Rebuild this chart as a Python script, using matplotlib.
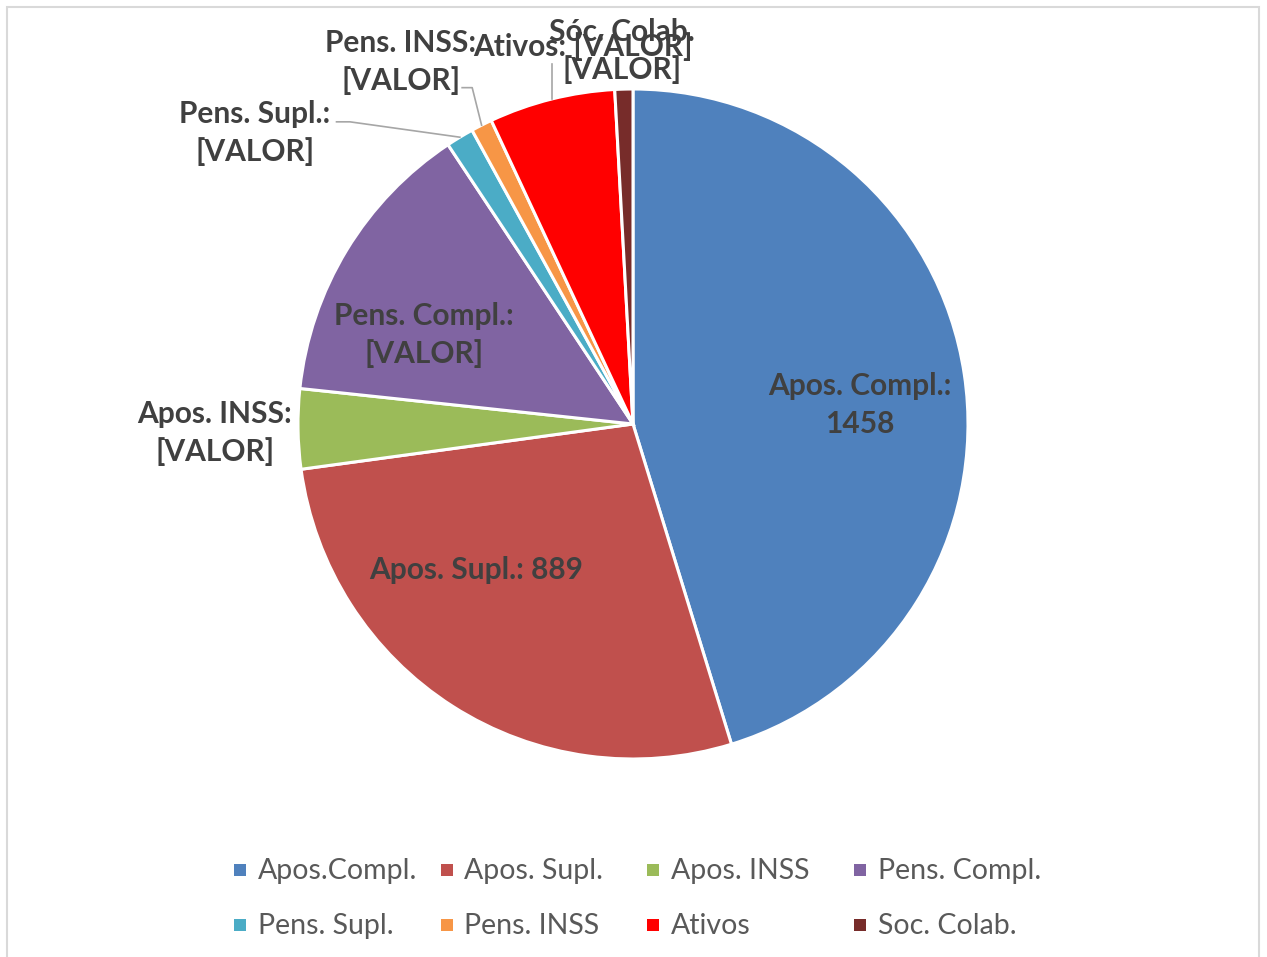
import matplotlib.pyplot as plt
import numpy as np
from matplotlib.patches import Rectangle

plt.rcParams["font.family"] = ["Lato", "DejaVu Sans"]

# data
categories = ["Apos.Compl.", "Apos. Supl.", "Apos. INSS", "Pens. Compl.",
              "Pens. Supl.", "Pens. INSS", "Ativos", "Soc. Colab."]
values = [1458, 889, 124, 451, 43, 33, 196, 28]
slice_labels = ["Apos. Compl.:\n1458", "Apos. Supl.: 889", "Apos. INSS:\n[VALOR]",
                "Pens. Compl.:\n[VALOR]", "Pens. Supl.:\n[VALOR]", "Pens. INSS:\n[VALOR]",
                "Ativos: [VALOR]", "Sóc. Colab.\n[VALOR]"]
colors = ["#4F81BD", "#C0504D", "#9BBB59", "#8064A2",
          "#4BACC6", "#F79646", "#FF0000", "#772C2A"]

W, H = 1267, 957
fig = plt.figure(figsize=(W / 100, H / 100), dpi=100)

# light frame around the chart area
fig.add_artist(Rectangle((7 / W, -0.01), 1252 / W, (H - 7) / H + 0.01,
                         transform=fig.transFigure, fill=False,
                         edgecolor="#D9D9D9", linewidth=1.5))

cx, cy, r = 633, 424, 335
ax = fig.add_axes([(cx - r) / W, (H - cy - r) / H, 2 * r / W, 2 * r / H])
wedges, _ = ax.pie(values, colors=colors, startangle=90, counterclock=False,
                   radius=1, wedgeprops=dict(edgecolor="white", linewidth=2.2))
ax.set_xlim(-1, 1)
ax.set_ylim(-1, 1)
ax.set_aspect("equal")
ax.axis("off")

# label positions (pie radius units)
label_pos = [(0.678, 0.057), (-0.469, -0.436), (-1.248, -0.027), (-0.624, 0.266),
             (-1.128, 0.869), (-0.693, 1.081), (-0.149, 1.127), (-0.033, 1.113)]
for lab, (x, y) in zip(slice_labels, label_pos):
    ax.text(x, y, lab, ha="center", va="center", fontsize=21.5, fontweight="bold",
            color="#404040", linespacing=1.4, clip_on=False)

# leader lines for the small outside labels
def edge_point(w, frac=1.0):
    a = np.deg2rad((w.theta1 + w.theta2) / 2)
    return frac * np.cos(a), frac * np.sin(a)

lc = "#A6A6A6"
ex, ey = edge_point(wedges[4])
ax.plot([-0.885, -0.845, ex], [0.902, 0.902, ey], color=lc, lw=1.2, clip_on=False)
ex, ey = edge_point(wedges[5])
ax.plot([-0.51, -0.48, ex], [1.004, 1.004, ey], color=lc, lw=1.2, clip_on=False)
ex, ey = edge_point(wedges[6])
ax.plot([-0.242, -0.242], [1.075, ey], color=lc, lw=1.2, clip_on=False)

# legend, 4 per row
for i, (name, c) in enumerate(zip(categories, colors)):
    col, row = i % 4, i // 4
    mx = 234 + col * 206.5
    my = 870 + row * 55
    fig.add_artist(Rectangle((mx / W, (H - my - 6) / H), 12 / W, 12 / H,
                             transform=fig.transFigure, facecolor=c, edgecolor="none"))
    fig.text((mx + 24) / W, (H - my - 1) / H, name, ha="left", va="center",
             fontsize=20.5, color="#595959")

fig.savefig("out.png", dpi=100)
